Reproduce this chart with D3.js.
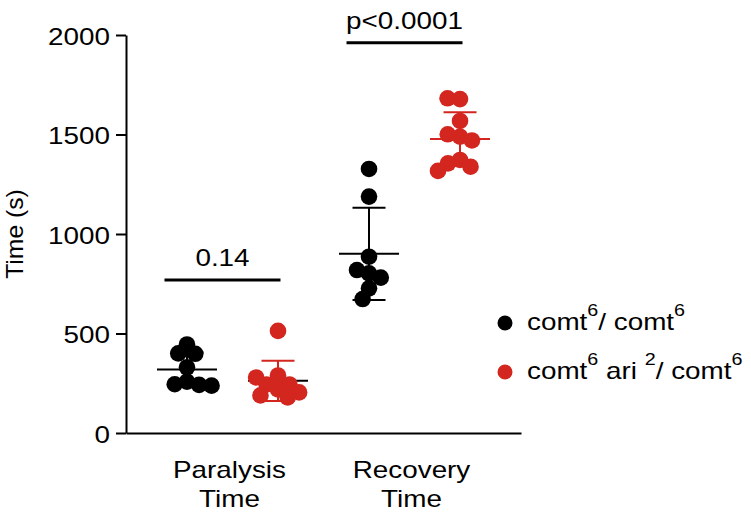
<!DOCTYPE html>
<html><head><meta charset="utf-8">
<script src="https://cdn.jsdelivr.net/npm/d3@7"></script>
<style>
html,body{margin:0;padding:0;background:#fff;}
svg{display:block;font-family:"Liberation Sans",Arial,Helvetica,sans-serif;}
</style></head><body>
<svg id="chart" width="751" height="515"></svg>
<script>
// ---------- data ----------
const categories = ["Paralysis Time", "Recovery Time"];
const categoryLines = [["Paralysis", "Time"], ["Recovery", "Time"]];
const genotypes = ["control", "mutant"];
const paralysisControl = [445, 400, 398, 330, 258, 245, 242, 238];
const paralysisMutant  = [513, 219, 244, 244, 189, 179, 204, 279, 289];
const recoveryControl  = [1327, 1188, 886, 802, 819, 781, 727, 673];
const recoveryMutant   = [1678, 1682, 1568, 1489, 1501, 1470, 1372, 1355, 1338, 1317];
const yTicks = [0, 500, 1000, 1500, 2000];
const yTitle = "Time (s)";
const compLabels  = ["0.14", "p<0.0001"];
const compHeights = [769, 1961];

// ---------- styles ----------
const RED = "#d2261f", BLACK = "#000";
const FS = 24, SX = 1.16;
const groups = [
  {key: "Paralysis Time|control", cat: 0, values: paralysisControl, fill: BLACK, bar: BLACK, mean: BLACK},
  {key: "Paralysis Time|mutant",  cat: 0, values: paralysisMutant,  fill: RED,   bar: RED,   mean: BLACK},
  {key: "Recovery Time|control",  cat: 1, values: recoveryControl,  fill: BLACK, bar: BLACK, mean: BLACK},
  {key: "Recovery Time|mutant",   cat: 1, values: recoveryMutant,   fill: RED,   bar: RED,   mean: RED}
];

const svg = d3.select("#chart");
const plot = {left: 126, right: 521, top: 35, bottom: 433};

const x = d3.scalePoint().domain(groups.map(g => g.key))
  .range([plot.left, plot.right]).padding(0.67);
const y = d3.scaleLinear().domain([0, 2000]).range([plot.bottom, plot.top]);

// ---------- axes ----------
const gy = svg.append("g").attr("transform", `translate(${plot.left},0)`)
  .call(d3.axisLeft(y).tickValues(yTicks).tickFormat(d3.format("d"))
    .tickSize(10).tickSizeOuter(0).tickPadding(6));
gy.attr("font-family", null).attr("font-size", null);
gy.select(".domain").attr("stroke-width", 2);
gy.selectAll(".tick line").attr("stroke-width", 2);
gy.selectAll(".tick text").attr("x", 0).attr("dy", null)
  .attr("font-size", FS).attr("fill", BLACK)
  .attr("transform", `translate(-16,9) scale(${SX},1)`);

const gx = svg.append("g").attr("transform", `translate(0,${plot.bottom})`)
  .call(d3.axisBottom(x).tickValues([]).tickSizeOuter(0));
gx.select(".domain").attr("stroke-width", 2);

// y title
svg.append("g").attr("transform", `translate(23,${(plot.top + plot.bottom) / 2}) rotate(-90)`)
  .append("text").attr("text-anchor", "middle").attr("font-size", FS)
  .attr("transform", "scale(1.03,1)").text(yTitle);

// category labels
categories.forEach((c, i) => {
  const ks = groups.filter(g => g.cat === i).map(g => x(g.key));
  const cx = d3.mean(ks) - 3;
  const t = svg.append("g").attr("transform", `translate(${cx},478) scale(${SX},1)`)
    .append("text").attr("text-anchor", "middle").attr("font-size", FS);
  categoryLines[i].forEach((ln, j) => {
    t.append("tspan").attr("x", 0).attr("dy", j === 0 ? 0 : 29).text(ln);
  });
});

// ---------- error bars ----------
const gb = svg.append("g");
groups.forEach(g => {
  const m = d3.mean(g.values), s = d3.deviation(g.values), cx = x(g.key);
  gb.append("line").attr("x1", cx).attr("x2", cx).attr("y1", y(m - s)).attr("y2", y(m + s))
    .attr("stroke", g.bar).attr("stroke-width", 2);
  [m - s, m + s].forEach(v => {
    gb.append("line").attr("x1", cx - 16.5).attr("x2", cx + 16.5).attr("y1", y(v)).attr("y2", y(v))
      .attr("stroke", g.bar).attr("stroke-width", 2);
  });
  gb.append("line").attr("x1", cx - 30).attr("x2", cx + 30).attr("y1", y(m)).attr("y2", y(m))
    .attr("stroke", g.mean).attr("stroke-width", 2);
});

// ---------- beeswarm dots ----------
const R = 8.3, DMIN = 12.5;
function swarm(vals) {
  const placed = [];
  vals.forEach(v => {
    const py = y(v);
    const cands = [0];
    placed.forEach(p => {
      const dy = Math.abs(p.y - py);
      if (dy < DMIN) {
        const dx = Math.sqrt(DMIN * DMIN - dy * dy) + 0.01;
        cands.push(p.x - dx, p.x + dx);
      }
    });
    cands.sort((a, b) => Math.abs(a) - Math.abs(b) || a - b);
    const ok = cands.find(cx => placed.every(p => Math.hypot(p.x - cx, p.y - py) >= DMIN - 0.001));
    placed.push({x: ok, y: py, v});
  });
  return placed;
}
const gd = svg.append("g");
groups.forEach(g => {
  const pts = swarm(g.values);
  gd.selectAll(null).data(pts).join("circle")
    .attr("cx", d => x(g.key) + d.x).attr("cy", d => d.y).attr("r", R)
    .attr("fill", g.fill);
});

// ---------- significance ----------
categories.forEach((c, i) => {
  const ks = groups.filter(g => g.cat === i).map(g => x(g.key));
  const cx = d3.mean(ks) - 10;
  const yy = y(compHeights[i]);
  svg.append("line").attr("x1", cx - 58).attr("x2", cx + 58).attr("y1", yy).attr("y2", yy)
    .attr("stroke", BLACK).attr("stroke-width", 3);
  svg.append("g").attr("transform", `translate(${cx},${yy - 14}) scale(${SX},1)`)
    .append("text").attr("text-anchor", "middle").attr("font-size", FS).text(compLabels[i]);
});

// ---------- legend ----------
const legendParts = [
  [["comt", 0], ["6", 1], ["/ comt", 0], ["6", 1]],
  [["comt", 0], ["6", 1], [" ari ", 0], ["2", 1], ["/ comt", 0], ["6", 1]]
];
const legendColors = [BLACK, RED];
const lg = svg.append("g");
genotypes.forEach((gname, i) => {
  const ly = 323 + i * 49;
  lg.append("circle").attr("cx", 505).attr("cy", ly).attr("r", 7.5).attr("fill", legendColors[i]);
  const t = lg.append("g").attr("transform", `translate(527,${ly + 6.5}) scale(${SX},1)`)
    .append("text").attr("font-size", FS).style("white-space", "pre");
  let up = false;
  legendParts[i].forEach(([s, sup]) => {
    const ts = t.append("tspan").text(s);
    if (sup && !up) { ts.attr("dy", -14).attr("font-size", 17); up = true; }
    else if (sup) { ts.attr("font-size", 17); }
    else if (up) { ts.attr("dy", 14); up = false; }
  });
});
</script>
</body></html>
